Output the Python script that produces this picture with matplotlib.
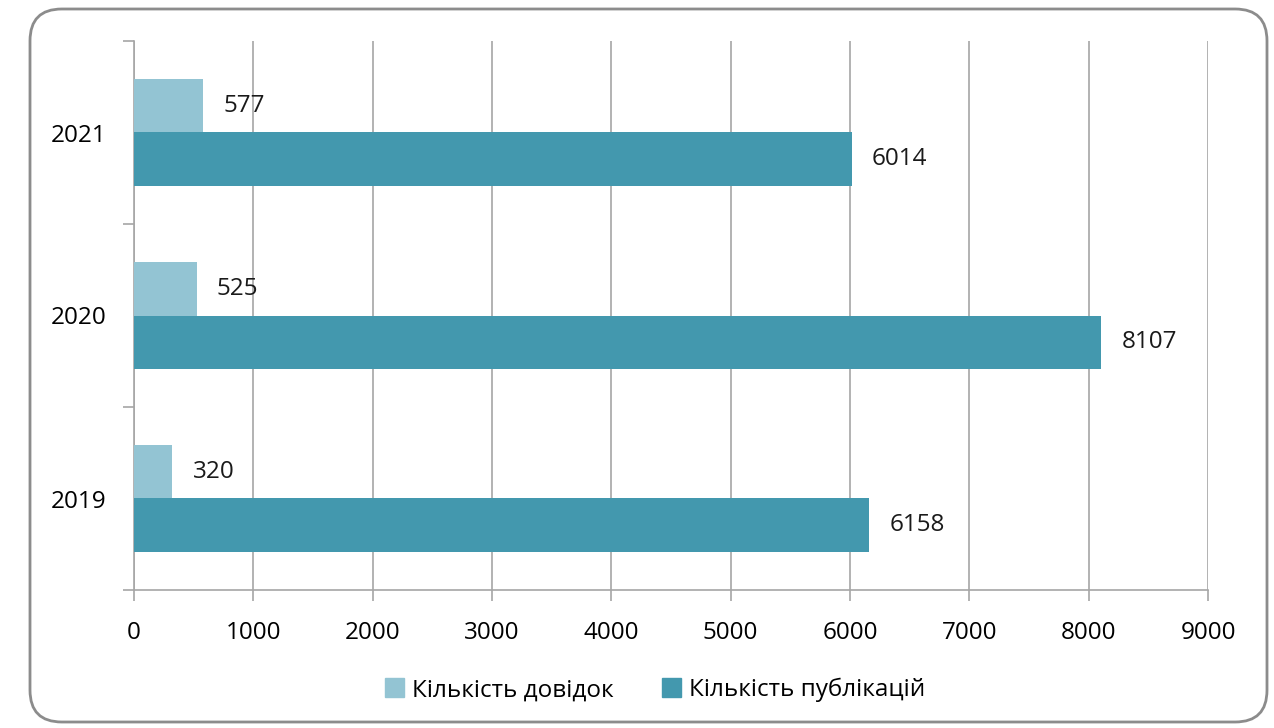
import matplotlib
matplotlib.use("Agg")
import matplotlib.pyplot as plt
from matplotlib.patches import FancyBboxPatch, Patch
import numpy as np

plt.rcParams['font.family'] = ['Open Sans', 'DejaVu Sans']

years = ['2019', '2020', '2021']
dovidky = [320, 525, 577]
publikatsii = [6158, 8107, 6014]
series_names = ['Кількість довідок', 'Кількість публікацій']
light = '#93c4d3'
dark = '#4398ae'
grey = '#a6a6a6'
fs = 17.5

fig = plt.figure(figsize=(12.74, 7.28), dpi=100)
frame = FancyBboxPatch((30 / 1274, 1 - 722 / 728), 1237 / 1274, 713 / 728,
                       boxstyle='round,pad=0,rounding_size=0.025',
                       transform=fig.transFigure, facecolor='none',
                       edgecolor='#8c8c8c', linewidth=2, mutation_aspect=1274 / 728)
fig.patches.append(frame)

ax = fig.add_axes([134 / 1274, 1 - 590 / 728, 1074 / 1274, 549 / 728])
ax.set_facecolor('none')

y = np.arange(len(years))
h = 0.29
ax.barh(y + 0.145, dovidky, height=h, color=light, zorder=3)
ax.barh(y - 0.145, publikatsii, height=h, color=dark, zorder=3)

for i in range(len(years)):
    ax.text(dovidky[i] + 170, y[i] + 0.145, str(dovidky[i]), va='center', ha='left', fontsize=fs, color='#1a1a1a')
    ax.text(publikatsii[i] + 170, y[i] - 0.145, str(publikatsii[i]), va='center', ha='left', fontsize=fs, color='#1a1a1a')

ax.set_xlim(0, 9000)
ax.set_ylim(-0.5, 2.5)
ax.set_xticks(np.arange(0, 9001, 1000))
ax.set_yticks(y)
ax.set_yticklabels(years)
ax.set_yticks(np.arange(-0.5, 2.6, 1), minor=True)
ax.tick_params(axis='y', which='major', length=0, pad=20, labelsize=fs)
ax.tick_params(axis='y', which='minor', length=8, color=grey, width=1.2)
ax.tick_params(axis='x', length=8, color=grey, width=1.2, labelsize=fs, pad=14)
ax.grid(axis='x', color=grey, linewidth=1.2, zorder=0)
for s in ['top', 'right']:
    ax.spines[s].set_visible(False)
for s in ['left', 'bottom']:
    ax.spines[s].set_color(grey)
    ax.spines[s].set_linewidth(1.2)

handles = [Patch(color=light), Patch(color=dark)]
fig.legend(handles, series_names, loc='center', bbox_to_anchor=(655 / 1274, 1 - 690 / 728),
           ncol=2, frameon=False, fontsize=fs, handlelength=0.8, handleheight=0.8,
           handletextpad=0.3, columnspacing=2.0)

fig.savefig('out.png', dpi=100)
